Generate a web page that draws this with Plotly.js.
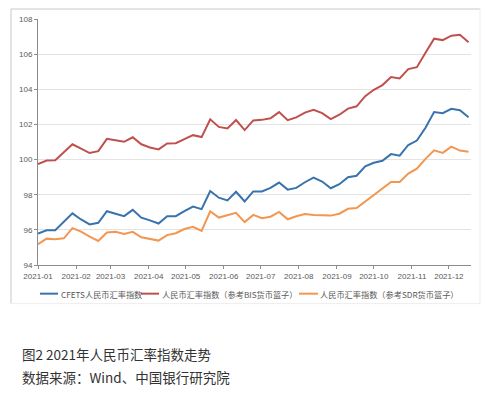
<!DOCTYPE html>
<html>
<head>
<meta charset="utf-8">
<script src="https://cdn.plot.ly/plotly-3.0.1.min.js"></script>
<style>
  html, body { margin: 0; padding: 0; background: #ffffff; }
  #chart { width: 502px; height: 398px; }
</style>
</head>
<body>
<div id="chart"></div>
<script>
const dates = [
  '2021-01-01','2021-01-08','2021-01-15','2021-01-22','2021-01-29',
  '2021-02-05','2021-02-12','2021-02-19','2021-02-26',
  '2021-03-05','2021-03-12','2021-03-19','2021-03-26',
  '2021-04-02','2021-04-09','2021-04-16','2021-04-23','2021-04-30',
  '2021-05-07','2021-05-14','2021-05-21','2021-05-28',
  '2021-06-04','2021-06-11','2021-06-18','2021-06-25',
  '2021-07-02','2021-07-09','2021-07-16','2021-07-23','2021-07-30',
  '2021-08-06','2021-08-13','2021-08-20','2021-08-27',
  '2021-09-03','2021-09-10','2021-09-17','2021-09-24',
  '2021-10-01','2021-10-08','2021-10-15','2021-10-22','2021-10-29',
  '2021-11-05','2021-11-12','2021-11-19','2021-11-26',
  '2021-12-03','2021-12-10','2021-12-17'
];

const cfets = [
  95.79,95.98,95.98,96.44,96.94,
  96.59,96.31,96.40,97.06,
  96.92,96.78,97.14,96.69,
  96.54,96.36,96.78,96.78,97.07,
  97.32,97.18,98.21,97.83,
  97.68,98.17,97.62,98.19,
  98.19,98.39,98.69,98.29,98.39,
  98.71,98.97,98.75,98.37,
  98.60,99.00,99.08,99.62,
  99.82,99.93,100.31,100.22,100.83,
  101.08,101.81,102.70,102.64,
  102.89,102.81,102.41
];

const bis = [
  99.75,99.95,99.96,100.40,100.87,
  100.62,100.37,100.48,101.18,
  101.10,101.01,101.27,100.87,
  100.69,100.58,100.92,100.93,101.16,
  101.39,101.28,102.29,101.86,
  101.77,102.25,101.68,102.23,
  102.26,102.35,102.70,102.24,102.40,
  102.67,102.83,102.64,102.30,
  102.55,102.90,103.03,103.61,
  103.97,104.24,104.70,104.62,105.15,
  105.26,106.08,106.88,106.80,
  107.05,107.10,106.68
];

const sdr = [
  95.18,95.50,95.47,95.52,96.10,
  95.90,95.62,95.37,95.85,
  95.89,95.77,95.89,95.58,
  95.47,95.39,95.70,95.81,96.05,
  96.17,95.94,97.06,96.70,
  96.82,96.97,96.44,96.85,
  96.66,96.75,97.02,96.60,96.77,
  96.90,96.85,96.81,96.81,
  96.92,97.20,97.24,97.60,
  97.97,98.36,98.72,98.73,99.20,
  99.48,100.04,100.53,100.38,
  100.74,100.51,100.44
];

const seriesNames = [
  'CFETS人民币汇率指数',
  '人民币汇率指数（参考BIS货币篮子）',
  '人民币汇率指数（参考SDR货币篮子）'
];
const yTicks = [94, 96, 98, 100, 102, 104, 106, 108];
const captionTitle = '图2 2021年人民币汇率指数走势';
const captionSource = '数据来源：Wind、中国银行研究院';

const colors = ['#3873ad', '#c0504d', '#f39650'];
const cjk = '"Noto Sans CJK SC", "Noto Sans", sans-serif';
const latin = '"Liberation Sans", Arial, sans-serif';

const traces = [cfets, bis, sdr].map((vals, k) => ({
  type: 'scatter',
  mode: 'lines',
  x: dates,
  y: vals,
  name: seriesNames[k],
  line: { color: colors[k], width: 2 },
  hoverinfo: 'skip',
  showlegend: false
}));

// plot area in pixels: left 38, right 471, top 19, bottom 265.3
const W = 433, H = 246.3, L = 38, T = 19;
const px = x => (x - L) / W;
const py = y => 1 - (y - T) / H;

// legend (drawn as paper-positioned line samples + labels)
const legendY = 294;
const legendItems = [
  { x0: 40, x1: 58, tx: 59 },
  { x0: 141, x1: 159, tx: 160 },
  { x0: 299, x1: 318, tx: 318 }
];

const shapes = [
  { type: 'line', xref: 'paper', yref: 'paper', x0: px(11), x1: px(480), y0: py(9), y1: py(9),
    line: { color: '#c8c8c8', width: 1 } },
  { type: 'line', xref: 'paper', yref: 'paper', x0: px(11), x1: px(11), y0: py(9), y1: py(304),
    line: { color: '#c8c8c8', width: 1 } },
  { type: 'line', xref: 'paper', yref: 'paper', x0: px(480), x1: px(480), y0: py(9), y1: py(304),
    line: { color: '#ededed', width: 1 } },
  { type: 'line', xref: 'paper', yref: 'paper', x0: px(11), x1: px(480), y0: py(304), y1: py(304),
    line: { color: '#ededed', width: 1 } }
];
const annotations = [
  { text: captionTitle, xref: 'paper', yref: 'paper', x: px(20), y: py(354),
    xanchor: 'left', yanchor: 'middle', showarrow: false,
    font: { family: cjk, size: 13.5, color: '#333333' } },
  { text: captionSource, xref: 'paper', yref: 'paper', x: px(20), y: py(377),
    xanchor: 'left', yanchor: 'middle', showarrow: false,
    font: { family: cjk, size: 13.5, color: '#333333' } }
];
legendItems.forEach((it, k) => {
  shapes.push({ type: 'line', xref: 'paper', yref: 'paper',
    x0: px(it.x0), x1: px(it.x1), y0: py(legendY), y1: py(legendY),
    line: { color: colors[k], width: 2 } });
  annotations.push({ text: seriesNames[k], xref: 'paper', yref: 'paper',
    x: px(it.tx), y: py(legendY), xanchor: 'left', yanchor: 'middle', showarrow: false,
    font: { family: cjk, size: 8.2, color: '#595959' } });
});

const layout = {
  width: 502,
  height: 398,
  margin: { l: 38, r: 31, t: 19, b: 132.7, pad: 0 },
  paper_bgcolor: '#ffffff',
  plot_bgcolor: '#ffffff',
  showlegend: false,
  font: { family: latin, size: 8, color: '#595959' },
  xaxis: {
    type: 'date',
    range: ['2021-01-01', '2021-12-19'],
    tick0: '2021-01-01',
    dtick: 'M1',
    tickformat: '%Y-%m',
    showgrid: false,
    zeroline: false,
    showline: true,
    linecolor: '#8c8c8c',
    linewidth: 1,
    ticks: 'outside',
    ticklen: 3,
    tickcolor: '#8c8c8c',
    tickfont: { family: latin, size: 8, color: '#595959' },
    fixedrange: true
  },
  yaxis: {
    range: [94, 108],
    tickvals: yTicks,
    ticktext: yTicks.map(String),
    showgrid: true,
    gridcolor: '#e3e3e3',
    gridwidth: 1,
    zeroline: false,
    showline: true,
    linecolor: '#8c8c8c',
    linewidth: 1,
    ticks: 'outside',
    ticklen: 3,
    tickcolor: '#8c8c8c',
    tickfont: { family: latin, size: 8, color: '#595959' },
    fixedrange: true
  },
  shapes: shapes,
  annotations: annotations
};

Plotly.newPlot('chart', traces, layout, { staticPlot: true, displayModeBar: false });
</script>
</body>
</html>
